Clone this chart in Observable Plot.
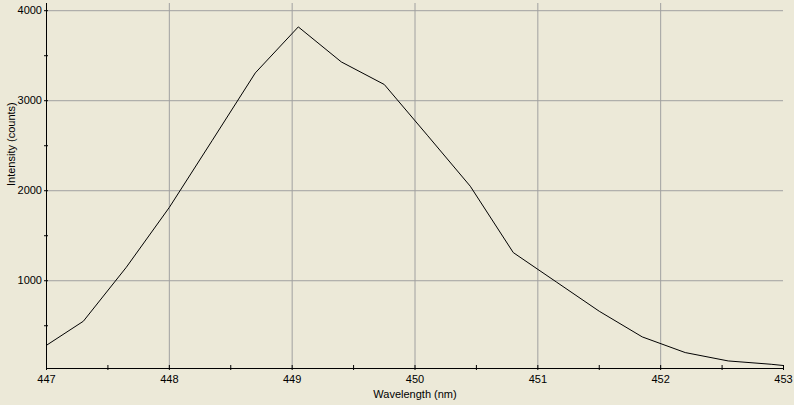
<!DOCTYPE html>
<html>
<head>
<meta charset="utf-8">
<script src="https://cdn.jsdelivr.net/npm/d3@7"></script>
<script src="https://cdn.jsdelivr.net/npm/@observablehq/plot@0.6"></script>
<style>
  html, body { margin: 0; padding: 0; background: #ECE9D8; }
  #chart svg { display: block; }
</style>
</head>
<body>
<div id="chart"></div>
<script>
const wavelength = [447.0, 447.3, 447.65, 448.0, 448.35, 448.7, 449.05, 449.4, 449.75, 450.1, 450.45, 450.8, 451.15, 451.5, 451.85, 452.2, 452.55, 452.9, 453.0];
const intensity  = [283, 550, 1150, 1815, 2560, 3309, 3820, 3431, 3180, 2617, 2050, 1313, 987, 661, 376, 202, 109, 72, 58];

const xMajor = [447, 448, 449, 450, 451, 452, 453];
const xMinor = [447.5, 448.5, 449.5, 450.5, 451.5, 452.5];
const yMajor = [1000, 2000, 3000, 4000];
const yMinor = [500, 1500, 2500, 3500];
const xGrid = [448, 449, 450, 451, 452];

const data = wavelength.map((w, i) => ({w, v: intensity[i]}));

const grid = "#a0a0a0";

const chart = Plot.plot({
  width: 794,
  height: 405,
  marginLeft: 46,
  marginRight: 11,
  marginTop: 3,
  marginBottom: 37,
  style: {background: "#ECE9D8", fontFamily: "'Liberation Sans', Arial, sans-serif", fontSize: "11px", color: "black"},
  x: {domain: [447, 453], label: null},
  y: {domain: [25, 4080], label: null},
  marks: [
    Plot.gridX(xGrid, {stroke: grid, strokeOpacity: 1}),
    Plot.gridY(yMajor, {stroke: grid, strokeOpacity: 1}),
    Plot.ruleX([447], {stroke: "black"}),
    Plot.ruleY([25], {stroke: "black"}),
    // x ticks crossing the axis
    Plot.axisX(xMajor, {tickSize: 5, dy: -3, text: null, stroke: "black"}),
    Plot.axisX(xMinor, {tickSize: 5, dy: -3, text: null, stroke: "black"}),
    Plot.axisX(xMajor, {tickSize: 0, tickPadding: 7, tickFormat: d => String(d), fill: "black", label: null}),
    // y ticks crossing the axis
    Plot.axisY(yMajor, {tickSize: 4, dx: 2, text: null, stroke: "black"}),
    Plot.axisY(yMinor, {tickSize: 4, dx: 2, text: null, stroke: "black"}),
    Plot.axisY(yMajor, {tickSize: 0, tickPadding: 4.5, tickFormat: d => String(d), fill: "black", label: null}),
    Plot.line(data, {x: "w", y: "v", stroke: "black", strokeWidth: 1}),
    Plot.text(["Wavelength (nm)"], {frameAnchor: "bottom", dy: 26, lineAnchor: "middle", fill: "black", fontSize: 11}),
    Plot.text(["Intensity (counts)"], {frameAnchor: "left", dx: -34.7, rotate: -90, lineAnchor: "middle", fill: "black", fontSize: 11})
  ]
});

document.getElementById("chart").appendChild(chart);
</script>
</body>
</html>
